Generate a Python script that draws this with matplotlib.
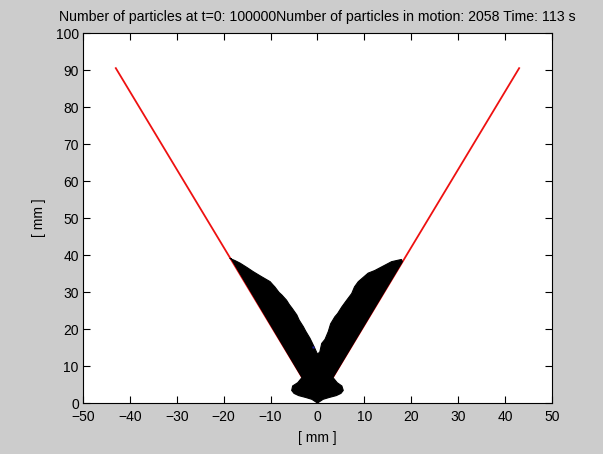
import numpy as np
import matplotlib.pyplot as plt

plt.rcParams['font.family'] = ['Liberation Sans', 'DejaVu Sans']

# boundary trajectories (red V), in mm
edge_x = [-43, 0, 43]
edge_y = [90.5, 0, 90.5]

# outline of the cloud of particles still in motion, in mm
cloud_x = [0, -1.2, -2.5, -4.0, -5.0, -5.5, -5.3, -4.2, -3.3,
           -18.4, -18.7, -17.6, -16.5, -15.0, -13.7, -12.0, -10.1,
           -9.4, -9.1, -8.2, -7.6, -6.6, -6.0, -5.4, -4.4, -3.9, -3.0, -2.5,
           -1.6, -1.1, -0.5, 0.0,
           0.5, 0.9, 1.6, 2.3, 2.8, 3.7, 4.3, 5.2, 6.0, 7.3, 7.9, 8.7,
           10.8, 12.2, 13.7, 15.8, 17.9,
           18.1, 3.3, 4.2, 5.2, 5.5, 5.0, 4.0, 2.5, 1.2, 0]
cloud_y = [0, 1.0, 1.5, 2.0, 2.6, 3.4, 4.6, 5.5, 6.9,
           39.0, 39.1, 38.5, 37.8, 36.6, 35.5, 34.2, 32.8,
           31.8, 31.4, 29.9, 29.2, 27.8, 26.6, 25.6, 23.8, 22.4, 20.6, 19.4,
           17.5, 16.2, 14.6, 13.2,
           13.8, 16.1, 17.2, 19.3, 21.4, 23.3, 24.2, 26.0, 27.4, 29.6, 31.4, 32.8,
           35.1, 35.8, 36.8, 38.2, 38.8,
           38.2, 6.9, 5.5, 4.6, 3.4, 2.6, 2.0, 1.5, 1.0, 0]

# single tagged particle
tag_x = [-1.0]
tag_y = [15.2]

title = "Number of particles at t=0: 100000Number of particles in motion: 2058 Time: 113 s"

fig = plt.figure(figsize=(6.03, 4.54), dpi=100, facecolor='#cccccc')
ax = fig.add_axes([0.1376, 0.1123, 0.7778, 0.815])
ax.set_facecolor('white')

ax.plot(edge_x, edge_y, color='#ee1111', lw=1.3, zorder=2)
ax.fill(cloud_x, cloud_y, color='black', lw=0.8, ec='black', zorder=3)
ax.plot(tag_x, tag_y, 's', ms=1.5, color='#2020a0', mec='none', zorder=4)

ax.set_xlim(-50, 50)
ax.set_ylim(0, 100)
ax.set_xticks(np.arange(-50, 51, 10))
ax.set_yticks(np.arange(0, 101, 10))
ax.tick_params(direction='in', top=True, right=True, length=5, width=0.8,
               labelsize=10)
ax.tick_params(axis='x', pad=5)
ax.tick_params(axis='y', pad=3)
for s in ax.spines.values():
    s.set_linewidth(0.8)

ax.set_xlabel('[ mm ]', fontsize=10, labelpad=5)
ax.set_ylabel('[ mm ]', fontsize=10, labelpad=7)
ax.set_title(title, fontsize=10.2, pad=9)

fig.savefig('out.png', dpi=100, facecolor=fig.get_facecolor())
